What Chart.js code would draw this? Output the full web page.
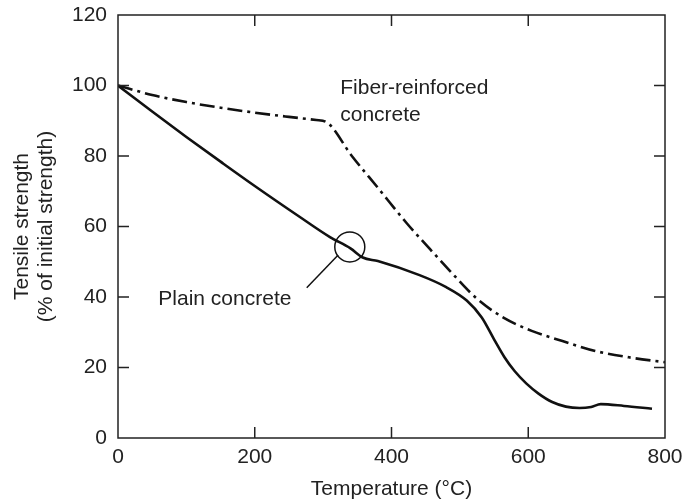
<!DOCTYPE html>
<html>
<head>
<meta charset="utf-8">
<script src="https://cdn.jsdelivr.net/npm/chart.js@4"></script>
<style>
  html, body { margin: 0; padding: 0; background: #fff; }
  #wrap { width: 690px; height: 502px; }
</style>
</head>
<body>
<div id="wrap"><canvas id="chart"></canvas></div>
<script>
// tensile strength vs temperature
var plainTemp     = [0, 50, 100, 150, 200, 266, 310, 340, 358, 380, 441, 480, 510, 532, 550, 565, 580, 597, 615, 635, 655, 675, 692, 706, 740, 781];
var plainStrength = [100, 92.6, 85.4, 78.4, 71.5, 62.7, 57, 53.8, 51.2, 50.2, 46.2, 42.8, 39, 34.2, 28, 23, 19, 15.5, 12.6, 10.2, 8.9, 8.5, 8.8, 9.6, 9.1, 8.3];

var fiberTemp     = [0, 50, 100, 150, 200, 250, 290, 305, 342, 380, 422, 452, 485, 525, 565, 605, 650, 700, 750, 800];
var fiberStrength = [100, 97.3, 95.3, 93.7, 92.3, 91.1, 90.2, 89.6, 80, 71, 61, 54.5, 47.5, 39.5, 34, 30.4, 27.5, 24.6, 22.8, 21.5];

var xTicks = [0, 200, 400, 600, 800];
var yTicks = [0, 20, 40, 60, 80, 100, 120];

var FONT = 'Liberation Sans, Arial, Helvetica, sans-serif';
var FSIZE = 21;
var TEXT = '#222';

function pts(xs, ys) {
  return xs.map(function (x, i) { return { x: x, y: ys[i] }; });
}

// frame, inward ticks on all four sides, labels and the marked point
var decorations = {
  id: 'decorations',
  afterDraw: function (chart) {
    var ctx = chart.ctx, a = chart.chartArea;
    var xs = chart.scales.x, ys = chart.scales.y;
    ctx.save();
    ctx.strokeStyle = '#222';
    ctx.lineWidth = 1.5;
    ctx.strokeRect(a.left, a.top, a.right - a.left, a.bottom - a.top);
    ctx.beginPath();
    xTicks.forEach(function (v) {
      if (v === xs.min || v === xs.max) return;
      var px = xs.getPixelForValue(v);
      ctx.moveTo(px, a.bottom); ctx.lineTo(px, a.bottom - 11);
      ctx.moveTo(px, a.top); ctx.lineTo(px, a.top + 11);
    });
    yTicks.forEach(function (v) {
      if (v === ys.min || v === ys.max) return;
      var py = ys.getPixelForValue(v);
      ctx.moveTo(a.left, py); ctx.lineTo(a.left + 11, py);
      ctx.moveTo(a.right, py); ctx.lineTo(a.right - 11, py);
    });
    ctx.stroke();

    // circled point on the plain concrete curve with its leader line
    ctx.strokeStyle = '#111';
    ctx.lineWidth = 1.5;
    ctx.beginPath();
    ctx.arc(xs.getPixelForValue(339), ys.getPixelForValue(54.2), 15, 0, Math.PI * 2);
    ctx.stroke();
    ctx.beginPath();
    ctx.moveTo(xs.getPixelForValue(276), ys.getPixelForValue(42.6));
    ctx.lineTo(xs.getPixelForValue(322), ys.getPixelForValue(51.9));
    ctx.stroke();

    ctx.fillStyle = TEXT;
    ctx.font = FSIZE + 'px ' + FONT;
    ctx.textAlign = 'left';
    ctx.textBaseline = 'middle';
    ctx.fillText('Fiber-reinforced', xs.getPixelForValue(325), ys.getPixelForValue(99.3));
    ctx.fillText('concrete', xs.getPixelForValue(325), ys.getPixelForValue(91.6));
    ctx.fillText('Plain concrete', xs.getPixelForValue(59), ys.getPixelForValue(39.4));
    ctx.restore();
  }
};

new Chart(document.getElementById('chart'), {
  type: 'line',
  data: {
    datasets: [{
      label: 'Plain concrete',
      data: pts(plainTemp, plainStrength),
      borderColor: '#111',
      borderWidth: 2.6,
      pointRadius: 0,
      cubicInterpolationMode: 'monotone'
    }, {
      label: 'Fiber-reinforced concrete',
      data: pts(fiberTemp, fiberStrength),
      borderColor: '#111',
      borderWidth: 2.6,
      borderDash: [15, 5, 3, 5],
      pointRadius: 0,
      cubicInterpolationMode: 'monotone'
    }]
  },
  options: {
    responsive: true,
    maintainAspectRatio: false,
    animation: false,
    layout: { padding: { top: 15, right: 25, left: 0, bottom: 0 } },
    plugins: {
      legend: { display: false },
      tooltip: { enabled: false }
    },
    scales: {
      x: {
        type: 'linear',
        min: 0, max: 800,
        afterBuildTicks: function (s) { s.ticks = xTicks.map(function (v) { return { value: v }; }); },
        afterFit: function (s) { s.height = 64; },
        grid: { display: false, drawTicks: false },
        border: { display: false },
        ticks: { color: TEXT, font: { family: FONT, size: FSIZE }, padding: 7, maxRotation: 0 },
        title: {
          display: true,
          text: 'Temperature (\u00B0C)',
          color: TEXT,
          font: { family: FONT, size: FSIZE },
          padding: { top: 1, bottom: 0 }
        }
      },
      y: {
        type: 'linear',
        min: 0, max: 120,
        afterBuildTicks: function (s) { s.ticks = yTicks.map(function (v) { return { value: v }; }); },
        afterFit: function (s) { s.width = 118; s.paddingTop = 0; s.paddingBottom = 0; },
        grid: { display: false, drawTicks: false },
        border: { display: false },
        ticks: { color: TEXT, font: { family: FONT, size: FSIZE }, padding: 11 },
        title: {
          display: true,
          text: ['Tensile strength', '(% of initial strength)'],
          color: TEXT,
          font: { family: FONT, size: FSIZE, lineHeight: 1.15 },
          padding: { top: 10, bottom: 0 }
        }
      }
    }
  },
  plugins: [decorations]
});
</script>
</body>
</html>
